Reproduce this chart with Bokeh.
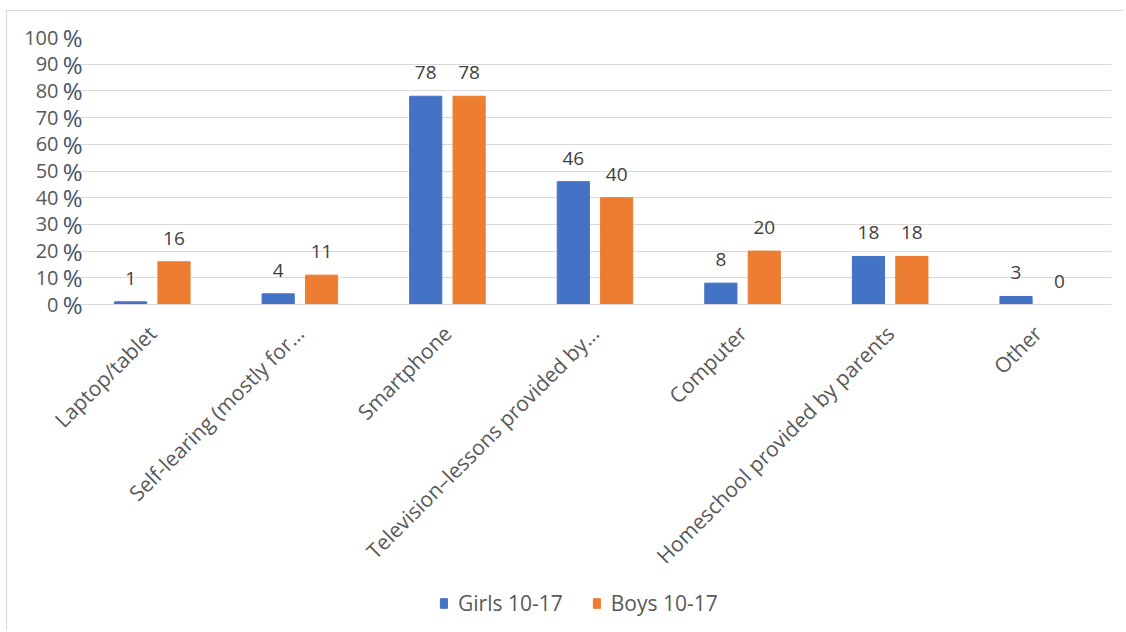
from bokeh.plotting import figure
from bokeh.models import (ColumnDataSource, FactorRange, Range1d, LinearAxis, FixedTicker,
                          Legend, LegendItem, LabelSet)
from bokeh.layouts import column
from bokeh.transform import dodge
from bokeh.core.properties import value
from bokeh.embed import file_html
from bokeh.resources import INLINE
import math

categories = ["Laptop/tablet", "Self-learing (mostly for\u2026", "Smartphone",
              "Television\u2013lessons provided by\u2026", "Computer",
              "Homeschool provided by parents", "Other"]
girls = [1, 4, 78, 46, 8, 18, 3]
boys = [16, 11, 78, 40, 20, 18, 0]
series_names = ["Girls 10-17", "Boys 10-17"]
y_ticks = [0, 10, 20, 30, 40, 50, 60, 70, 80, 90, 100]

BLUE = "#4472C4"
ORANGE = "#ED7D31"
FONT = "Open Sans"
W = 1123

src = ColumnDataSource(dict(cat=categories, girls=girls, boys=boys,
                            gl=[str(v) for v in girls], bl=[str(v) for v in boys]))

p = figure(x_range=FactorRange(*categories), y_range=Range1d(0, 100),
           width=W, height=582, output_backend="svg", toolbar_location=None,
           y_axis_location=None, min_border_left=78, min_border_top=37,
           min_border_right=12, min_border_bottom=270)
p.outline_line_color = None
p.background_fill_color = "white"
p.border_fill_alpha = 0

r1 = p.vbar(x=dodge("cat", -0.147, range=p.x_range), top="girls", width=0.218,
            source=src, color=BLUE)
r2 = p.vbar(x=dodge("cat", 0.147, range=p.x_range), top="boys", width=0.218,
            source=src, color=ORANGE)

for col, off, top in (("gl", -0.147, "girls"), ("bl", 0.147, "boys")):
    lbl = LabelSet(x=dodge("cat", off, range=p.x_range), y=top, text=col, source=src,
                   text_align="center", text_baseline="bottom", y_offset=17,
                   text_font=value(FONT), text_font_size="19px", text_color="#404040")
    p.add_layout(lbl)

# x axis
xa = p.xaxis[0]
xa.major_label_orientation = math.pi / 4
xa.major_label_text_font = FONT
xa.major_label_text_font_size = "21px"
xa.major_label_text_color = "#595959"
xa.axis_line_color = "#D9D9D9"
xa.major_tick_line_color = None
xa.minor_tick_line_color = None
xa.major_label_standoff = 19

# y axes: inner "%" and outer numbers
ticker = FixedTicker(ticks=y_ticks)
pct = LinearAxis(ticker=ticker, major_label_overrides={t: "%" for t in y_ticks},
                 axis_line_color=None, major_tick_line_color=None, minor_tick_line_color=None,
                 major_label_text_font=FONT, major_label_text_font_size="24px",
                 major_label_text_color="#44546A", major_label_standoff=-10)
num = LinearAxis(ticker=ticker, major_label_overrides={t: str(t) for t in y_ticks},
                 axis_line_color=None, major_tick_line_color=None, minor_tick_line_color=None,
                 major_label_text_font=FONT, major_label_text_font_size="20px",
                 major_label_text_color="#595959", major_label_standoff=-5)
p.add_layout(pct, "left")
p.add_layout(num, "left")

p.xgrid.grid_line_color = None
p.ygrid.ticker = ticker
p.ygrid.grid_line_color = "#D9D9D9"

# legend strip below the chart
lf = figure(x_range=p.x_range, y_range=Range1d(1000, 1001), width=W, height=48,
            output_backend="svg", toolbar_location=None, x_axis_location=None,
            y_axis_location=None, min_border=0)
lf.outline_line_color = None
lf.grid.grid_line_color = None
lf.background_fill_alpha = 0
lf.border_fill_alpha = 0
lr1 = lf.vbar(x=dodge("cat", -0.147, range=lf.x_range), top="girls", width=0.218,
              source=src, color=BLUE)
lr2 = lf.vbar(x=dodge("cat", 0.147, range=lf.x_range), top="boys", width=0.218,
              source=src, color=ORANGE)
legend = Legend(items=[LegendItem(label=series_names[0], renderers=[lr1]),
                       LegendItem(label=series_names[1], renderers=[lr2])],
                orientation="horizontal", location=(361, 13), padding=0,
                label_text_font=FONT, label_text_font_size="21px",
                label_text_color="#595959", border_line_color=None,
                background_fill_alpha=0,
                glyph_width=9, glyph_height=12, spacing=29, margin=0,
                label_standoff=10)
lf.add_layout(legend)

layout = column(p, lf, spacing=0,
                styles={"box-shadow": "inset 6px 10px 0 0 white, inset 7px 11px 0 0 #D9D9D9",
                        "background-color": "white"})
open("out.html", "w").write(file_html(layout, INLINE))
